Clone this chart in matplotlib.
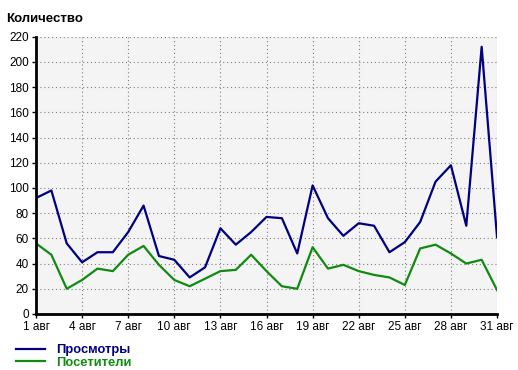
import matplotlib
matplotlib.use("Agg")
import matplotlib.pyplot as plt

# Daily stats for August
days = list(range(1, 32))
views = [92, 98, 56, 41, 49, 49, 65, 86, 46, 43, 29, 37, 68, 55, 65, 77,
         76, 48, 102, 76, 62, 72, 70, 49, 57, 73, 105, 118, 70, 212, 61]
visitors = [56, 47, 20, 27, 36, 34, 47, 54, 39, 27, 22, 28, 34, 35, 47, 34,
            22, 20, 53, 36, 39, 34, 31, 29, 23, 52, 55, 48, 40, 43, 19]
tick_days = list(range(1, 32, 3))
tick_labels = [f"{d} авг" for d in tick_days]
y_ticks = list(range(0, 221, 20))

plt.rcParams['font.family'] = ['Liberation Sans', 'DejaVu Sans']

fig = plt.figure(figsize=(5.18, 3.70), dpi=100)
ax = fig.add_axes([0.0695, 0.1514, 0.89, 0.7494])
ax.set_facecolor('#f4f4f4')

ax.plot(days, views, color='#000080', lw=1.6, label='Просмотры')
ax.plot(days, visitors, color='#108a10', lw=1.6, label='Посетители')

ax.set_xlim(1, 31)
ax.set_ylim(0, 220)
ax.set_xticks(tick_days)
ax.set_xticklabels(tick_labels)
ax.set_yticks(y_ticks)
ax.tick_params(labelsize=8.5, length=3, width=1, color='black', pad=2)

ax.grid(True, color='#808080', linestyle=(0, (1, 2.5)), linewidth=0.8)
ax.set_axisbelow(True)

for side in ['top', 'right']:
    ax.spines[side].set_visible(False)
for side in ['left', 'bottom']:
    ax.spines[side].set_linewidth(2)
    ax.spines[side].set_color('black')

fig.text(0.012, 0.94, 'Количество', fontsize=9.5, fontweight='bold')

leg = fig.legend(loc='upper left', bbox_to_anchor=(0.03, 0.07),
                 frameon=False, prop={'weight': 'bold', 'size': 9.3},
                 labelcolor='linecolor', handlelength=2.3, handletextpad=0.85,
                 labelspacing=0.05, borderaxespad=0, borderpad=0)

fig.savefig('out.png', dpi=100)
